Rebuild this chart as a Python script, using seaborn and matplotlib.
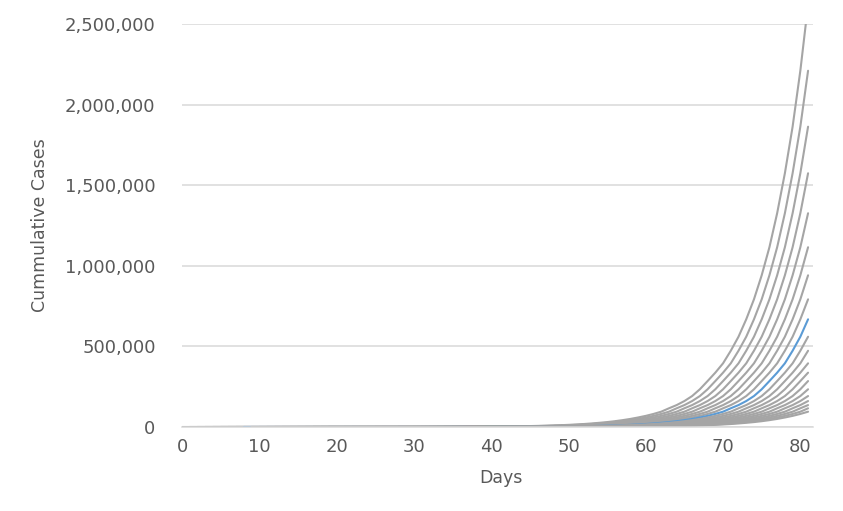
import matplotlib
matplotlib.use("Agg")
import matplotlib.pyplot as plt
import seaborn as sns
import pandas as pd
from matplotlib.ticker import FuncFormatter

# ---- data ----
days = list(range(82))
# cumulative cases of the leading curve, day 0..81
base_curve = [
    2, 3, 4, 5, 6, 7, 8, 9, 11, 13,
    15, 18, 21, 25, 30, 35, 42, 50, 59, 70,
    83, 98, 116, 137, 163, 193, 228, 270, 320, 380,
    450, 535, 635, 750, 890, 1050, 1250, 1480, 1750, 2070,
    2450, 2900, 3450, 4100, 4800, 5700, 6800, 8000, 9500, 11200,
    13300, 15700, 18500, 22000, 26000, 30500, 36000, 42500, 50000, 59000,
    69000, 81000, 95000, 116000, 136000, 161000, 192000, 234000, 285000, 337000,
    395000, 473000, 560000, 668000, 792000, 941000, 1115000, 1326000, 1574000, 1863000,
    2210000, 2620000,
]
# each scenario starts this many days later than the leading curve
series_lags = list(range(20))
highlight_lag = 8

x_ticks = [0, 10, 20, 30, 40, 50, 60, 70, 80]
y_ticks = [0, 500000, 1000000, 1500000, 2000000, 2500000]

rows = []
for lag in series_lags:
    for t in days:
        if t >= lag:
            rows.append({"series": lag, "day": t, "cases": base_curve[t - lag]})
df = pd.DataFrame(rows)

palette = {lag: ("#5B9BD5" if lag == highlight_lag else "#A5A5A5") for lag in series_lags}

# ---- plot ----
sns.set_theme(style="white")
plt.rcParams["font.family"] = ["DejaVu Sans"]

fig = plt.figure(figsize=(8.43, 5.11), dpi=100)
ax = fig.add_axes([182 / 843, 1 - 427 / 511, (812.7 - 182) / 843, (427 - 24) / 511])

sns.lineplot(data=df, x="day", y="cases", hue="series", palette=palette,
             hue_order=series_lags, linewidth=1.5, legend=False, ax=ax,
             estimator=None, sort=True)

ax.set_xlim(0, 81.6)
ax.set_ylim(0, 2500000)
ax.set_xticks(x_ticks)
ax.set_yticks(y_ticks)
ax.yaxis.set_major_formatter(FuncFormatter(lambda v, p: f"{int(v):,}"))

ax.grid(axis="y", color="#D9D9D9", linewidth=1.1)
ax.grid(axis="x", visible=False)
ax.set_axisbelow(True)
for s in ["top", "right", "left"]:
    ax.spines[s].set_visible(False)
ax.spines["bottom"].set_color("#D9D9D9")
ax.spines["bottom"].set_linewidth(1.1)

ax.tick_params(axis="both", length=0, colors="#595959", labelsize=13)
ax.tick_params(axis="y", pad=19)
ax.tick_params(axis="x", pad=8)

ax.set_xlabel("Days", color="#595959", fontsize=12.5)
ax.set_ylabel("Cummulative Cases", color="#595959", fontsize=12.5)
ax.xaxis.set_label_coords(0.5055, -0.104)
ax.yaxis.set_label_coords(-0.211, 0.5)

fig.savefig("out.png", dpi=100)
